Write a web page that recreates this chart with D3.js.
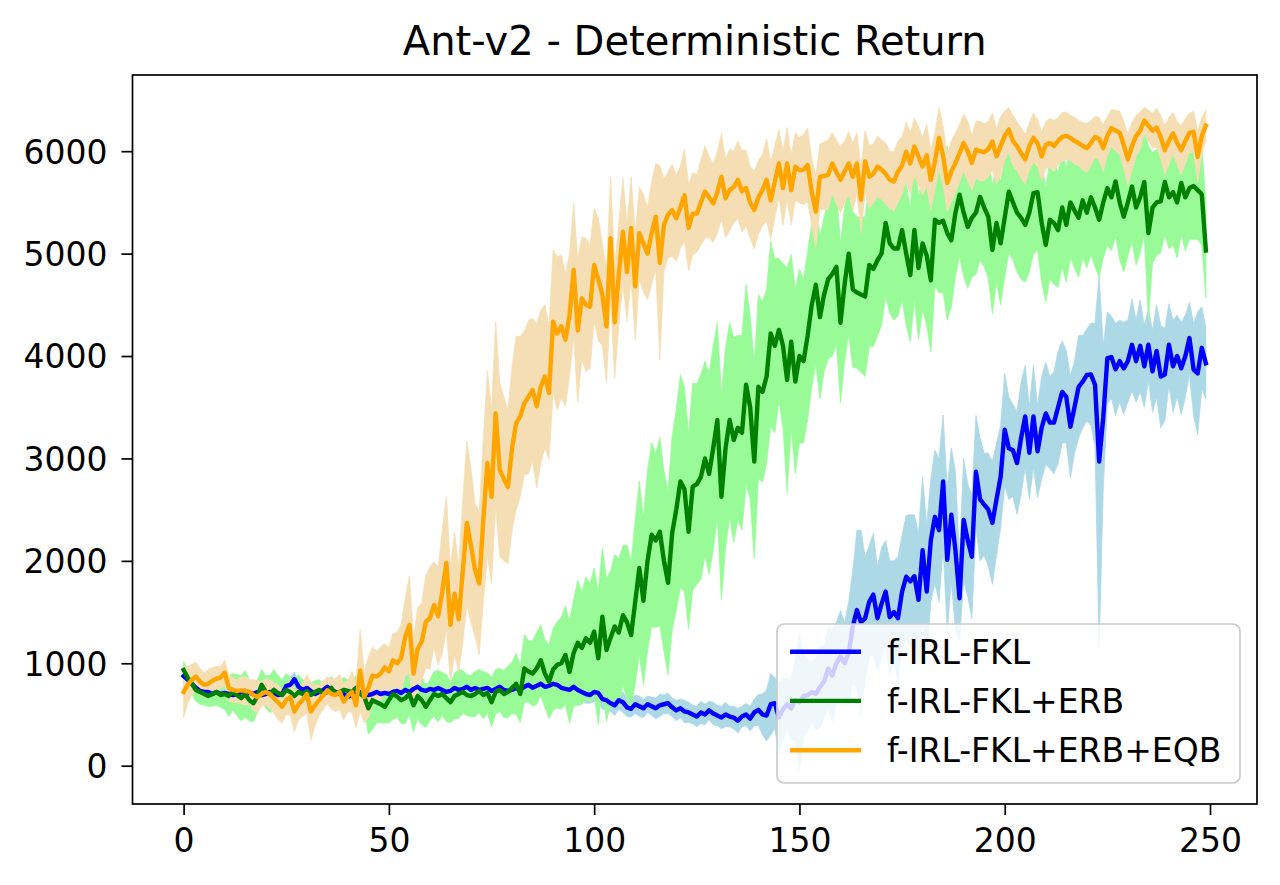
<!DOCTYPE html>
<html>
<head>
<meta charset="utf-8">
<script src="https://cdn.jsdelivr.net/npm/d3@7"></script>
<style>
html,body{margin:0;padding:0;background:#fff;}
svg{display:block;font-family:"DejaVu Sans",sans-serif;}
</style>
</head>
<body>
<svg id="chart" width="1280" height="885"></svg>
<script>
const title = "Ant-v2 - Deterministic Return";
const seriesNames = ["f-IRL-FKL", "f-IRL-FKL+ERB", "f-IRL-FKL+ERB+EQB"];
const xTicks = [0, 50, 100, 150, 200, 250];
const yTicks = [0, 1000, 2000, 3000, 4000, 5000, 6000];

const fklMean = [
875,840,800,760,730,720,720,700,720,700,
710,700,690,700,720,730,710,700,720,690,
700,720,710,690,700,780,790,845,770,740,
760,730,700,720,740,770,740,720,700,700,
675,690,700,720,700,690,700,720,700,710,
700,720,730,710,740,720,750,770,740,730,
750,740,760,740,720,730,760,740,750,770,
740,760,740,750,760,730,750,770,740,730,
740,760,740,770,790,760,780,800,770,780,
800,790,760,750,740,770,740,720,700,690,
720,710,650,640,610,590,640,620,570,555,
600,580,560,600,580,560,590,600,610,570,
540,560,530,520,500,480,520,500,540,510,
490,470,500,480,470,440,480,500,460,520,
545,500,490,600,610,470,550,600,560,640,
620,680,690,720,700,770,820,950,880,1000,
1065,1000,1100,1360,1520,1400,1440,1600,1670,1440,
1580,1700,1450,1500,1440,1700,1845,1800,1850,1620,
2105,1700,2200,2430,2300,2775,2010,2450,2100,1635,
2400,2200,2040,2870,2600,2550,2500,2370,2600,2820,
3280,3100,3080,2955,3200,3410,3055,3410,3070,3300,
3440,3350,3350,3500,3650,3600,3310,3500,3700,3750,
3815,3820,3720,2970,3400,3980,3990,3870,3950,3880,
3950,4110,3950,4100,3900,4110,3850,4050,3800,3820,
4110,3900,4000,3880,4000,4175,3870,3830,4080,3930];
const fklStd = [
90,80,70,60,60,50,60,50,60,50,
60,50,60,70,60,50,60,70,60,50,
60,70,60,50,60,70,80,70,60,70,
60,50,60,70,60,50,60,50,60,70,
60,50,60,70,60,50,60,50,60,70,
60,70,60,50,60,70,60,50,60,70,
60,70,60,50,60,70,60,50,60,70,
60,70,80,70,60,70,80,70,60,70,
70,80,70,60,70,80,70,80,70,60,
70,80,90,80,70,80,90,80,90,80,
90,80,100,90,80,100,90,100,90,80,
90,100,90,80,90,100,110,90,100,90,
100,90,110,100,90,100,110,100,90,110,
100,110,120,100,110,120,100,110,120,130,
150,200,250,300,250,350,300,250,300,400,
665,400,350,300,350,400,350,400,450,400,
450,400,500,550,780,900,600,550,600,500,
550,500,550,500,600,550,600,650,600,650,
715,650,600,650,700,650,700,650,775,410,
600,550,600,550,600,500,550,600,550,500,
550,500,450,500,550,500,450,500,450,500,
500,450,500,550,500,450,500,450,500,450,
450,500,600,1820,700,450,400,450,400,450,
400,450,400,450,400,350,400,450,500,450,
400,450,400,450,400,350,450,600,400,350];

const erbMean = [
935,860,800,740,720,700,680,700,720,690,
700,680,720,690,660,700,640,610,680,790,
720,700,740,710,690,740,720,680,720,700,
730,690,720,740,700,720,760,700,720,740,
730,720,760,700,675,560,640,620,600,575,
640,700,675,640,660,700,590,680,640,575,
640,700,680,700,660,620,680,700,720,690,
680,700,730,690,710,620,720,740,700,720,
760,800,700,950,920,900,950,1030,900,820,
940,985,1000,1080,915,1100,1200,1150,1245,1200,
1310,1050,1455,1130,1250,1360,1300,1470,1400,1275,
1600,1930,1610,2000,2255,2200,2285,2000,1785,2270,
2500,2775,2700,2285,2725,2750,2820,3000,2850,3100,
3375,2625,3100,3375,3180,3300,3250,3720,3500,2970,
3700,3650,3800,4220,4100,4255,4100,3765,4140,3750,
4000,3950,4200,4500,4695,4380,4600,4750,4800,4870,
4325,4700,5000,4650,4620,4600,4580,4890,4850,4935,
5000,5300,5100,5050,5050,5230,5000,4790,5230,4860,
5100,4980,4740,5330,5300,5320,5200,5130,5400,5575,
5400,5260,5350,5400,5555,5450,5360,5035,5300,5100,
5350,5605,5500,5400,5350,5280,5400,5590,5600,5300,
5085,5330,5300,5230,5450,5280,5500,5420,5350,5520,
5400,5550,5450,5330,5500,5640,5550,5705,5500,5360,
5500,5655,5450,5550,5700,5200,5450,5500,5510,5700,
5550,5600,5500,5690,5550,5640,5660,5620,5580,5030];
const erbStd = [
80,90,100,110,120,110,100,120,130,120,
150,200,180,200,220,230,200,180,160,150,
160,180,200,170,150,160,140,150,170,140,
100,120,110,100,110,120,110,100,110,120,
110,100,120,130,150,250,290,200,180,160,
220,250,200,230,250,200,260,220,240,200,
200,220,250,210,230,200,220,240,210,200,
200,220,210,230,200,240,220,210,230,250,
250,300,280,330,300,320,350,345,330,360,
400,420,450,480,500,520,610,550,600,580,
620,650,670,700,650,700,720,680,750,720,
800,850,820,880,900,850,920,880,900,950,
980,1040,1000,950,1010,980,1000,950,980,1000,
950,1000,980,950,1000,900,950,980,900,950,
900,880,850,900,850,700,800,1100,850,900,
850,800,820,800,780,800,750,780,800,760,
780,750,800,760,740,760,780,800,760,740,
700,720,680,700,660,680,700,650,680,700,
650,680,700,650,680,700,850,650,620,600,
620,600,580,600,620,580,600,620,580,600,
580,600,560,580,600,560,580,600,560,580,
560,580,600,560,580,560,540,560,580,560,
540,560,580,560,540,560,520,540,560,540,
520,540,560,540,520,850,540,520,500,520,
500,520,540,500,520,500,520,480,500,460];

const eqbMean = [
720,790,840,870,820,790,800,830,850,860,
910,760,740,730,735,730,720,690,670,700,
720,700,660,620,575,640,670,530,600,640,
700,530,590,640,690,735,700,690,720,625,
680,720,590,930,670,760,880,870,900,960,
920,1030,1000,1050,1260,1375,900,1140,1210,1406,
1440,1570,1460,1700,1980,1375,1680,1430,1900,2370,
2150,1910,1780,2400,2955,2625,3440,2890,2800,2720,
3100,3345,3410,3540,3600,3670,3510,3700,3800,3640,
4336,4220,4290,4160,4400,4840,4250,4565,4500,4480,
4890,4750,4600,4290,5150,4330,4800,5215,4820,5250,
4680,5200,5100,5000,5200,5360,4910,5280,5380,5425,
5345,5450,5570,5250,5390,5390,5500,5605,5550,5490,
5600,5750,5540,5620,5650,5720,5610,5640,5500,5425,
5550,5620,5720,5520,5700,5880,5640,5880,5620,5850,
5815,5820,5865,5600,5410,5750,5760,5770,5880,5800,
5720,5800,5880,5750,5880,5525,5900,5750,5780,5850,
5820,5780,5720,5705,5800,5860,5995,5880,6045,5950,
5850,5960,5720,5900,6130,5950,5690,5800,5885,5980,
6080,6000,5885,6015,6000,5990,6020,6095,5950,6050,
6150,6210,6100,6050,5980,5920,6050,6130,6080,5950,
6060,6080,6050,6100,6140,6150,6130,6100,6080,6050,
6030,6080,6140,6120,6030,6150,6225,6200,6180,6060,
5920,6050,6150,6200,6300,6250,6200,6230,6140,6010,
6100,6175,6080,6010,6100,6180,6190,5945,6150,6250];
const eqbStd = [
250,180,150,140,130,120,140,130,120,110,
120,130,120,110,130,140,120,150,160,120,
130,140,150,170,160,140,180,200,150,160,
190,280,200,150,140,130,150,160,170,180,
150,200,220,400,250,300,280,250,260,230,
240,260,300,330,380,480,350,400,380,450,
500,420,480,600,650,560,600,520,700,800,
750,650,700,800,900,850,900,850,800,750,
800,850,780,700,750,700,800,750,700,650,
700,750,700,650,600,650,700,600,650,600,
550,600,500,550,600,550,500,520,480,500,
520,450,480,450,500,520,950,450,420,450,
420,400,450,420,400,380,420,450,400,380,
400,420,380,400,350,380,400,370,350,380,
360,350,400,380,350,330,360,350,340,330,
320,340,360,330,350,320,330,340,300,310,
320,300,310,330,300,320,300,310,290,300,
290,300,280,290,300,280,290,300,280,290,
280,300,290,280,300,290,280,300,290,280,
280,290,270,280,290,280,270,280,270,290,
240,220,250,240,250,240,230,240,230,240,
230,240,250,230,240,230,220,230,220,230,
240,220,200,210,230,190,180,200,210,230,
250,230,200,180,130,150,170,190,210,240,
230,200,210,240,220,190,200,250,180,150];

const lineColors = ["#0000ff", "#008000", "#ffa500"];
const bandColors = ["#add8e6", "#98fb98", "#f5deb3"];

const series = [
  {name: seriesNames[0], mean: fklMean, std: fklStd, line: lineColors[0], band: bandColors[0]},
  {name: seriesNames[1], mean: erbMean, std: erbStd, line: lineColors[1], band: bandColors[1]},
  {name: seriesNames[2], mean: eqbMean, std: eqbStd, line: lineColors[2], band: bandColors[2]}
];

const L = 132.5, R = 1257, T = 75, B = 804;
const svg = d3.select("#chart");

const x = d3.scaleLinear().domain([-12.45, 261.45]).range([L, R]);
const y = d3.scaleLinear().domain([-374, 6744]).range([B, T]);

svg.append("defs").append("clipPath").attr("id", "clip")
  .append("rect").attr("x", L).attr("y", T).attr("width", R - L).attr("height", B - T);

const plot = svg.append("g").attr("clip-path", "url(#clip)");

const area = d3.area()
  .x((d, i) => x(i))
  .y0(d => y(d[0] - d[1]))
  .y1(d => y(d[0] + d[1]));
const line = d3.line().x((d, i) => x(i)).y(d => y(d));

series.forEach(s => {
  const pts = s.mean.map((m, i) => [m, s.std[i]]);
  plot.append("path").datum(pts)
    .attr("d", area)
    .attr("fill", s.band)
    .attr("stroke", s.band)
    .attr("stroke-width", 0.8);
});
series.forEach(s => {
  plot.append("path").datum(s.mean)
    .attr("d", line)
    .attr("fill", "none")
    .attr("stroke", s.line)
    .attr("stroke-width", 4.4)
    .attr("stroke-linejoin", "round")
    .attr("stroke-linecap", "square");
});

// axes
const xAxis = d3.axisBottom(x).tickValues(xTicks).tickSize(11).tickPadding(14).tickFormat(d3.format("d"));
const yAxis = d3.axisLeft(y).tickValues(yTicks).tickSize(11).tickPadding(14).tickFormat(d3.format("d"));

const gx = svg.append("g").attr("transform", `translate(0,${B})`).call(xAxis);
const gy = svg.append("g").attr("transform", `translate(${L},0)`).call(yAxis);
[gx, gy].forEach(g => {
  g.select(".domain").remove();
  g.selectAll(".tick line").attr("stroke", "#000").attr("stroke-width", 1.7);
  g.selectAll(".tick text").attr("fill", "#000")
    .style("font-family", "DejaVu Sans, sans-serif").style("font-size", "33px");
});
gx.selectAll(".tick text").attr("dy", "0.71em");
gy.selectAll(".tick text").attr("dy", "0.36em");

// spines
svg.append("rect").attr("x", L).attr("y", T).attr("width", R - L).attr("height", B - T)
  .attr("fill", "none").attr("stroke", "#000").attr("stroke-width", 1.7);

// title
svg.append("text").attr("x", (L + R) / 2).attr("y", 55)
  .attr("text-anchor", "middle")
  .style("font-size", "40px").attr("fill", "#000")
  .text(title);

// legend
const lg = svg.append("g");
lg.append("rect").attr("x", 777).attr("y", 624).attr("width", 463).attr("height", 159)
  .attr("rx", 7).attr("ry", 7)
  .attr("fill", "#fff").attr("fill-opacity", 0.8)
  .attr("stroke", "#cccccc").attr("stroke-width", 1.7);
const rowY = [651.7, 700.9, 750.3];
series.forEach((s, i) => {
  lg.append("line").attr("x1", 790).attr("x2", 861)
    .attr("y1", rowY[i]).attr("y2", rowY[i])
    .attr("stroke", s.line).attr("stroke-width", 4.4);
  lg.append("text").attr("x", 887).attr("y", rowY[i]).attr("dy", "0.36em")
    .style("font-size", "33px").attr("fill", "#000").text(s.name);
});
</script>
</body>
</html>
